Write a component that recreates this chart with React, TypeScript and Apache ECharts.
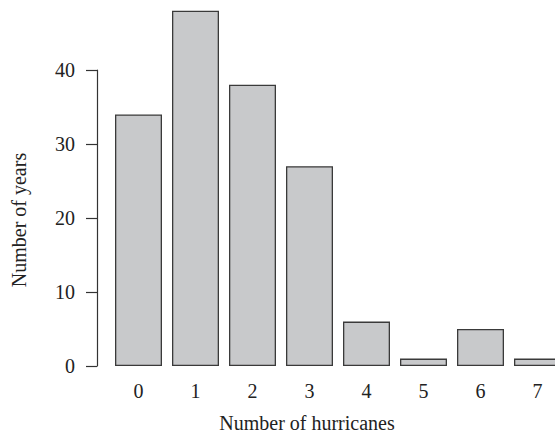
import React, { useEffect, useRef } from "react";
import * as echarts from "echarts";

const categories = ["0", "1", "2", "3", "4", "5", "6", "7"];
const yearCounts = [34, 48, 38, 27, 6, 1, 5, 1];
const yTicksMin = 0;
const yTicksMax = 40;
const yTickStep = 10;
const xTitle = "Number of hurricanes";
const yTitle = "Number of years";

const FONT = "'Liberation Serif', 'DejaVu Serif', serif";

export default function App() {
  const ref = useRef<HTMLDivElement>(null);
  useEffect(() => {
    if (!ref.current) return;
    const chart = echarts.init(ref.current, null, { renderer: "svg" });
    const dataMax = Math.max(...yearCounts);
    const pxPerUnit = 7.4;
    const baseY = 366;
    chart.setOption({
      animation: false,
      backgroundColor: "#ffffff",
      grid: [
        { left: 110, width: 456, top: baseY - dataMax * pxPerUnit, bottom: 435 - baseY },
        { left: 97, width: 10, top: baseY - yTicksMax * pxPerUnit, bottom: 435 - baseY },
      ],
      xAxis: [
        {
          type: "category",
          gridIndex: 0,
          data: categories,
          axisLine: { show: false },
          axisTick: { show: false },
          axisLabel: { fontFamily: FONT, fontSize: 20, color: "#222", margin: 15 },
        },
        { type: "value", gridIndex: 1, show: false },
      ],
      yAxis: [
        { type: "value", gridIndex: 0, min: 0, max: dataMax, show: false },
        {
          type: "value",
          gridIndex: 1,
          min: yTicksMin,
          max: yTicksMax,
          interval: yTickStep,
          axisLine: { show: true, lineStyle: { color: "#333", width: 1.2 } },
          axisTick: { show: true, length: 11, lineStyle: { color: "#333", width: 1.2 } },
          axisLabel: { fontFamily: FONT, fontSize: 20, color: "#222", margin: 22 },
          splitLine: { show: false },
        },
      ],
      series: [
        {
          type: "bar",
          xAxisIndex: 0,
          yAxisIndex: 0,
          data: yearCounts,
          barWidth: 47,
          itemStyle: { color: "#c8c9cb", borderColor: "#3a3a3a", borderWidth: 1.3 },
          silent: true,
        },
      ],
      graphic: [
        {
          type: "text",
          x: 307,
          y: 423,
          style: {
            text: xTitle,
            fontFamily: FONT,
            fontSize: 20,
            fill: "#222",
            textAlign: "center",
            textVerticalAlign: "middle",
          },
        },
        {
          type: "text",
          x: 19,
          y: 220,
          rotation: Math.PI / 2,
          style: {
            text: yTitle,
            fontFamily: FONT,
            fontSize: 20,
            fill: "#222",
            textAlign: "center",
            textVerticalAlign: "middle",
          },
        },
      ],
    });
    return () => chart.dispose();
  }, []);
  return (
    <div style={{ position: "absolute", left: 0, top: 0, width: 555, height: 435, overflow: "hidden" }}>
      <div ref={ref} style={{ width: 575, height: 435 }} />
    </div>
  );
}
